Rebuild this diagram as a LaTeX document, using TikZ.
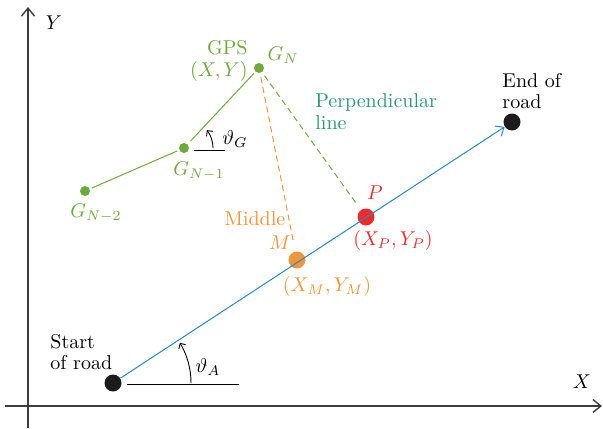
\documentclass[tikz,border=0pt]{standalone}
\usetikzlibrary{arrows.meta}
\definecolor{gpsgreen}{RGB}{110,168,62}
\definecolor{perpteal}{RGB}{46,150,122}
\definecolor{midorange}{RGB}{240,150,60}
\definecolor{pred}{RGB}{236,44,44}
\definecolor{roadblue}{RGB}{44,134,198}
\definecolor{axisgray}{RGB}{60,60,60}
\definecolor{dotblack}{RGB}{28,28,28}
\begin{document}
\begin{tikzpicture}[x=0.5pt,y=-0.5pt,
  lbl/.style={inner sep=0pt,font=\fontsize{10}{10.9}\selectfont,align=left},
  gdot/.style={circle,fill=gpsgreen,inner sep=0pt,minimum size=5pt},
  bigdot/.style={circle,inner sep=0pt,minimum size=8.5pt},
  axisline/.style={draw=axisgray,line width=0.7pt,-{Straight Barb[length=4pt,width=6.5pt]}},
  thinline/.style={line width=0.5pt},
  dashline/.style={line width=0.5pt,dash pattern=on 3pt off 2pt},
  anglearc/.style={line width=0.45pt,draw=black,-{Straight Barb[length=2pt,width=4pt]}}
]
\useasboundingbox (0,0) rectangle (603,428);

% axes
\coordinate (ybot) at (28,428);
\coordinate (ytop) at (28,7);
\coordinate (xleft) at (5,406);
\coordinate (xright) at (602,406);
\draw[axisline] (ybot) -- (ytop);
\draw[axisline] (xleft) -- (xright);
\node[lbl] (ylab) at (54,23) {$Y$};
\node[lbl] (xlab) at (582,382) {$X$};

% road
\node[bigdot,fill=dotblack] (start) at (113,383) {};
\node[bigdot,fill=dotblack] (end) at (512,122) {};
\node[bigdot,fill=pred] (P) at (366,217) {};
\node[bigdot,fill=midorange] (M) at (297,260) {};
\draw[thinline,draw=roadblue,-{Straight Barb[length=3.5pt,width=6pt]}] (start) -- (end);
\node[lbl,anchor=west] (startlab) at (50,352) {Start\\of road};
\node[lbl,anchor=west] (endlab) at (502,91) {End of\\road};

% angle A
\coordinate (ha1) at (127,384);
\coordinate (ha2) at (239,384);
\draw[line width=0.45pt] (ha1) -- (ha2);
\coordinate (aA) at (191,383);
\draw[anglearc] (aA) arc[start angle=0,end angle=31,radius=39pt];
\node[lbl] (thA) at (208,367) {$\vartheta_A$};

% GPS points
\node[gdot] (GN) at (259,68) {};
\node[gdot] (GN1) at (184,148) {};
\node[gdot] (GN2) at (85,191) {};
\draw[thinline,draw=gpsgreen,shorten <=1pt,shorten >=1pt] (GN2) -- (GN1);
\draw[thinline,draw=gpsgreen,shorten <=2pt,shorten >=1pt] (GN1) -- (GN);
\node[lbl,text=gpsgreen,anchor=east,align=right] (gpslab) at (248,61) {GPS\\$(X,Y)$};
\node[lbl,text=gpsgreen] (GNlab) at (283,55) {$G_N$};
\node[lbl,text=gpsgreen] (GN1lab) at (199,171) {$G_{N-1}$};
\node[lbl,text=gpsgreen] (GN2lab) at (96,213) {$G_{N-2}$};

% angle G
\coordinate (hg1) at (194,150);
\coordinate (hg2) at (225,150);
\draw[line width=0.45pt] (hg1) -- (hg2);
\coordinate (aG) at (213,148);
\draw[anglearc] (aG) arc[start angle=0,end angle=38,radius=14.5pt];
\node[lbl] (thG) at (235,139) {$\vartheta_G$};

% dashed lines
\draw[dashline,draw=midorange,shorten <=2pt,shorten >=4.5pt] (GN) -- (M);
\draw[dashline,draw=gpsgreen,shorten <=2pt,shorten >=4pt] (GN) -- (P);

% labels
\node[lbl,text=perpteal,anchor=west] (perplab) at (315,112) {Perpendicular\\line};
\node[lbl,text=pred] (Plab) at (375,193) {$P$};
\node[lbl,text=pred] (XPlab) at (393,240) {$(X_P,Y_P)$};
\node[lbl,text=midorange] (midlab) at (255,219) {Middle};
\node[lbl,text=midorange] (Mlab) at (280,243) {$M$};
\node[lbl,text=midorange] (XMlab) at (327,286) {$(X_M,Y_M)$};
\end{tikzpicture}
\end{document}
